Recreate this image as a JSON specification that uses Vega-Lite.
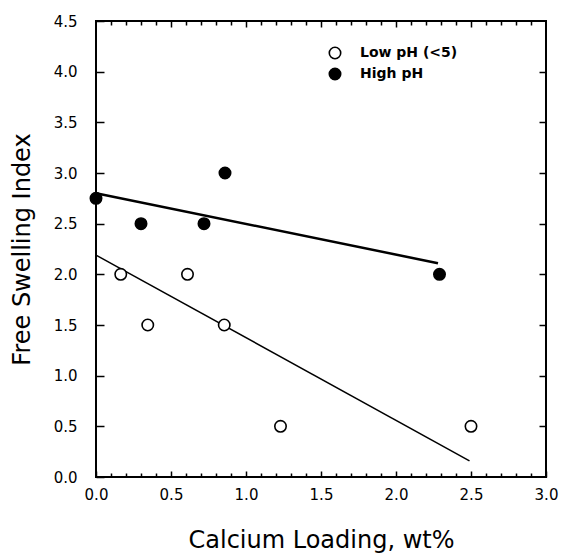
{
  "$schema": "https://vega.github.io/schema/vega-lite/v6.json",
  "width": 450,
  "height": 456,
  "autosize": {"type": "none"},
  "padding": {"left": 96, "top": 21, "right": 16, "bottom": 76},
  "background": "white",
  "config": {
    "view": {"stroke": "black", "strokeWidth": 2},
    "font": "DejaVu Sans",
    "axis": {"domain": false, "grid": false, "labelFlush": false, "tickColor": "black", "labelColor": "black", "titleColor": "black", "labelFont": "DejaVu Sans", "labelFontSize": 15, "titleFont": "DejaVu Sans", "titleFontSize": 24, "titleFontWeight": "normal", "tickWidth": 1.5}
  },
  "datasets": {
    "points": [
      {"x": 0.0, "y": 2.75, "group": "High pH"},
      {"x": 0.3, "y": 2.5, "group": "High pH"},
      {"x": 0.72, "y": 2.5, "group": "High pH"},
      {"x": 0.86, "y": 3.0, "group": "High pH"},
      {"x": 2.29, "y": 2.0, "group": "High pH"},
      {"x": 0.165, "y": 2.0, "group": "Low pH (<5)"},
      {"x": 0.345, "y": 1.5, "group": "Low pH (<5)"},
      {"x": 0.61, "y": 2.0, "group": "Low pH (<5)"},
      {"x": 0.855, "y": 1.5, "group": "Low pH (<5)"},
      {"x": 1.23, "y": 0.5, "group": "Low pH (<5)"},
      {"x": 2.5, "y": 0.5, "group": "Low pH (<5)"}
    ],
    "lines": [
      {"x": 0.0, "y": 2.8, "group": "High pH"},
      {"x": 2.28, "y": 2.11, "group": "High pH"},
      {"x": 0.0, "y": 2.19, "group": "Low pH (<5)"},
      {"x": 2.49, "y": 0.16, "group": "Low pH (<5)"}
    ]
  },
  "resolve": {"axis": {"x": "independent", "y": "independent"}},
  "layer": [
    {
      "data": {"name": "lines"},
      "transform": [{"filter": "datum.group === 'Low pH (<5)'"}],
      "mark": {"type": "line", "color": "black", "strokeWidth": 1.5},
      "encoding": {
        "x": {"field": "x", "type": "quantitative", "scale": {"domain": [0, 3], "nice": false, "zero": false},
              "axis": {"orient": "bottom", "values": [0.1,0.2,0.3,0.4,0.6,0.7,0.8,0.9,1.1,1.2,1.3,1.4,1.6,1.7,1.8,1.9,2.1,2.2,2.3,2.4,2.6,2.7,2.8,2.9], "tickSize": -4, "labels": false, "title": null}},
        "y": {"field": "y", "type": "quantitative", "scale": {"domain": [0, 4.5], "nice": false, "zero": false},
              "axis": {"orient": "right", "values": [0.5,1,1.5,2,2.5,3,3.5,4], "tickSize": -7, "labels": false, "title": null}}
      }
    },
    {
      "data": {"name": "lines"},
      "transform": [{"filter": "datum.group === 'High pH'"}],
      "mark": {"type": "line", "color": "black", "strokeWidth": 2.5},
      "encoding": {
        "x": {"field": "x", "type": "quantitative",
              "axis": {"orient": "top", "values": [0.5,1,1.5,2,2.5], "tickSize": -6, "labels": false, "title": null}},
        "y": {"field": "y", "type": "quantitative", "axis": null}
      }
    },
    {
      "data": {"name": "points"},
      "mark": {"type": "point", "opacity": 0},
      "encoding": {
        "x": {"field": "x", "type": "quantitative",
              "axis": {"orient": "top", "values": [0.1,0.2,0.3,0.4,0.6,0.7,0.8,0.9,1.1,1.2,1.3,1.4,1.6,1.7,1.8,1.9,2.1,2.2,2.3,2.4,2.6,2.7,2.8,2.9], "tickSize": -4, "labels": false, "title": null}},
        "y": {"field": "y", "type": "quantitative", "axis": null}
      }
    },
    {
      "data": {"name": "points"},
      "mark": {"type": "point", "shape": "circle", "size": 130, "stroke": "black", "strokeWidth": 1.6, "opacity": 1},
      "encoding": {
        "x": {"field": "x", "type": "quantitative",
              "axis": {"orient": "bottom", "values": [0,0.5,1,1.5,2,2.5,3], "format": ".1f", "tickSize": -6, "labelPadding": 16, "title": "Calcium Loading, wt%", "titlePadding": 26}},
        "y": {"field": "y", "type": "quantitative",
              "axis": {"orient": "left", "values": [0,0.5,1,1.5,2,2.5,3,3.5,4,4.5], "format": ".1f", "tickSize": -8, "labelPadding": 27, "title": "Free Swelling Index", "titlePadding": 19}},
        "fill": {"field": "group", "type": "nominal",
                 "scale": {"domain": ["Low pH (<5)", "High pH"], "range": ["white", "black"]},
                 "legend": {"title": null, "orient": "none", "legendX": 232, "legendY": 25, "padding": 0,
                            "symbolType": "circle", "symbolSize": 130, "symbolStrokeColor": "black", "symbolStrokeWidth": 1.6,
                            "labelFont": "DejaVu Sans", "labelFontSize": 14, "labelFontWeight": "bold", "labelColor": "black", "labelOffset": 18, "rowPadding": 3}}
      }
    }
  ]
}
